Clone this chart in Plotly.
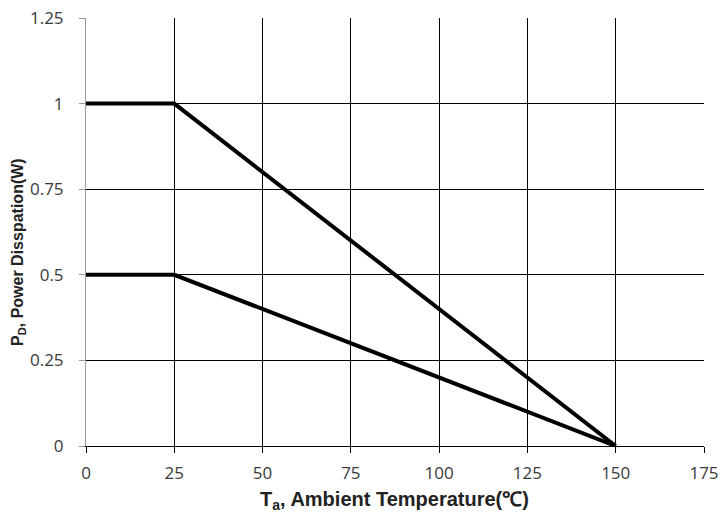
import plotly.graph_objects as go

temp_a = [0, 25, 150]
pd_a = [1.0, 1.0, 0.0]
temp_b = [0, 25, 150]
pd_b = [0.5, 0.5, 0.0]
x_ticks = [0, 25, 50, 75, 100, 125, 150, 175]
y_ticks = [0, 0.25, 0.5, 0.75, 1, 1.25]
y_tick_text = ["0", "0.25", "0.5", "0.75", "1", "1.25"]

fig = go.Figure()
for xs, ys in [(temp_a, pd_a), (temp_b, pd_b)]:
    fig.add_trace(go.Scatter(x=xs, y=ys, mode="lines",
                             line=dict(color="black", width=4), showlegend=False))

tick_font = dict(family="Open Sans, Noto Sans, sans-serif", size=17, color="#3a3a3a")
fig.update_layout(
    width=722, height=521,
    margin=dict(l=86, r=18, t=18, b=75),
    paper_bgcolor="white", plot_bgcolor="white",
    xaxis=dict(range=[0, 175], tickvals=x_ticks, showgrid=True, gridcolor="black", gridwidth=1,
               zeroline=False, showline=True, linecolor="black", linewidth=1, automargin=False,
               ticks="outside", ticklen=6, tickcolor="black", tickfont=tick_font,
               ticklabelstandoff=6),
    yaxis=dict(range=[0, 1.25], tickvals=y_ticks, ticktext=y_tick_text, showgrid=True,
               gridcolor="black", gridwidth=1, zeroline=False, showline=True, linecolor="#999999",
               linewidth=1, ticks="outside", ticklen=6, tickcolor="#999999", tickfont=tick_font,
               automargin=False, ticklabelstandoff=12),
)
fig.add_annotation(text="<b>T<sub>a</sub>, Ambient Temperature(℃)</b>", xref="paper", yref="paper",
                   x=(394 - 86) / 618, y=(446 - 500) / 428, xanchor="center", yanchor="middle",
                   showarrow=False,
                   font=dict(family="Liberation Sans, Arial, sans-serif", size=20, color="#222222"))
fig.add_annotation(text="<b>P<sub>D</sub>, Power Disspation(W)</b>", xref="paper", yref="paper",
                   x=(18 - 86) / 618, y=0.5 - 20 / 428, xanchor="center", yanchor="middle",
                   textangle=-90, showarrow=False,
                   font=dict(family="Liberation Sans, Arial, sans-serif", size=16, color="#222222"))
fig.write_html("out.html", post_script="document.body.style.margin='0px';",
               config={"displayModeBar": False})
